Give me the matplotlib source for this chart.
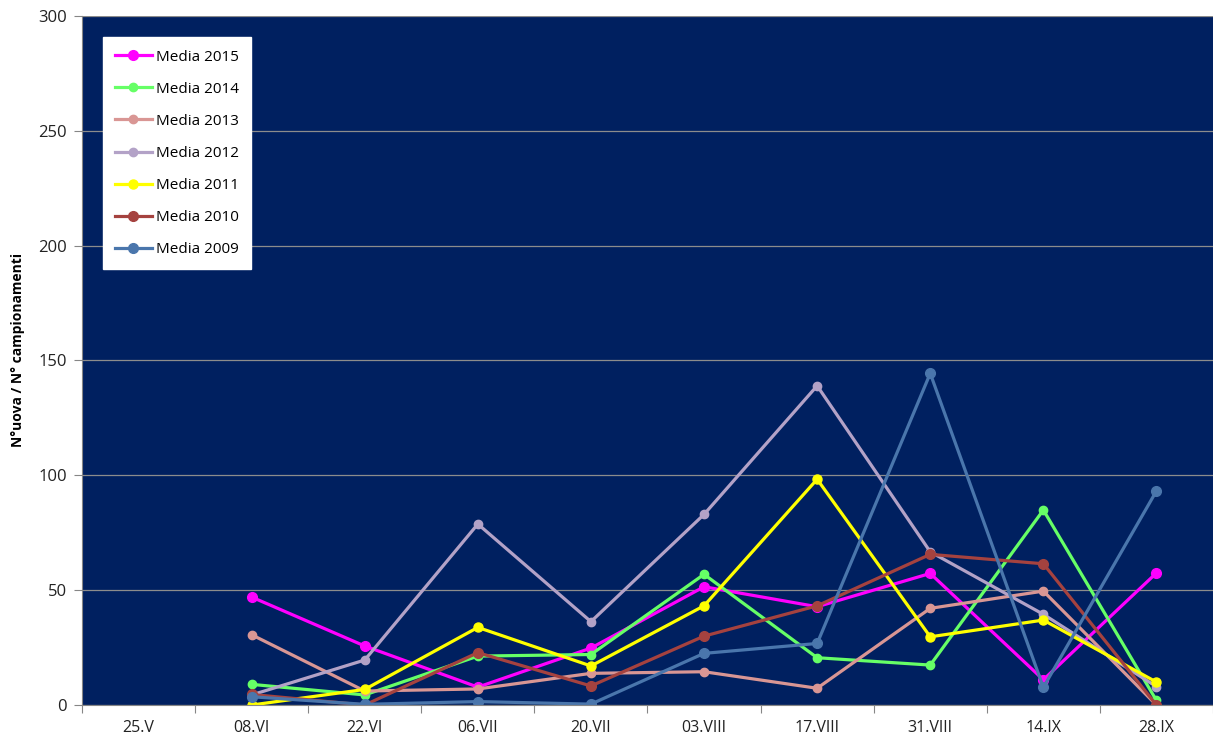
import numpy as np
import matplotlib.pyplot as plt
from matplotlib.ticker import FixedLocator, NullFormatter

plt.rcParams['font.family'] = ['Open Sans', 'DejaVu Sans']

dates = ['25.V', '08.VI', '22.VI', '06.VII', '20.VII', '03.VIII',
         '17.VIII', '31.VIII', '14.IX', '28.IX']

nan = np.nan
media_2015 = [nan, 47, 25.7, 7.8, 24.8, 51.5, 42.8, 57.3, 11, 57.5]
media_2014 = [nan, 9, 4.4, 21.3, 22, 56.9, 20.6, 17.4, 84.9, 2]
media_2013 = [nan, 30.6, 6.1, 7, 13.8, 14.5, 7.3, 42.1, 49.6, 0]
media_2012 = [nan, 4.4, 19.6, 78.8, 36.3, 83, 139, 66.7, 39.5, 8]
media_2011 = [nan, 0, 6.8, 33.8, 17, 43.2, 98.3, 29.7, 37, 10]
media_2010 = [nan, 4.6, 0, 22.8, 8.3, 30, 43.2, 65.6, 61.5, 0]
media_2009 = [nan, 3.6, 0.3, 1.5, 0.4, 22.5, 26.8, 144.4, 7.7, 93.2]

series = [
    ('Media 2015', media_2015, '#FF00FF', 7),
    ('Media 2014', media_2014, '#66FF66', 6),
    ('Media 2013', media_2013, '#D99694', 6),
    ('Media 2012', media_2012, '#B3A2C7', 6),
    ('Media 2011', media_2011, '#FFFF00', 6.5),
    ('Media 2010', media_2010, '#A5423F', 7),
    ('Media 2009', media_2009, '#4A76AC', 7),
]

fig = plt.figure(figsize=(12.13, 7.53), dpi=100)
ax = fig.add_axes([0.0676, 0.0637, 0.9324, 0.9151])
ax.set_facecolor('#002060')

x = np.arange(len(dates))
for label, vals, color, ms in series:
    ax.plot(x, vals, color=color, lw=2.3, marker='o', markersize=ms,
            label=label)

ax.set_xlim(-0.5, len(dates) - 0.5)
ax.set_ylim(0, 300)
ax.set_yticks(np.arange(0, 301, 50))
ax.yaxis.grid(True, color='#8C8C8C', lw=0.9)
ax.set_axisbelow(True)

# category labels centered, tick marks between categories
ax.xaxis.set_major_locator(FixedLocator(np.arange(-0.5, len(dates), 1.0)))
ax.xaxis.set_major_formatter(NullFormatter())
ax.xaxis.set_minor_locator(FixedLocator(x))
ax.set_xticklabels(dates, minor=True)
ax.tick_params(axis='x', which='major', length=6, color='#868686')
ax.tick_params(axis='x', which='minor', length=0, pad=11,
               labelsize=11.5, labelcolor='#222222')
ax.tick_params(axis='y', length=6, color='#868686', labelsize=12,
               labelcolor='#222222', pad=5)

for side in ['top', 'right']:
    ax.spines[side].set_visible(False)
for side in ['left', 'bottom']:
    ax.spines[side].set_color('#868686')

ax.set_ylabel('N°uova / N° campionamenti', fontsize=10, fontweight='bold')
ax.yaxis.set_label_coords(-0.05, 0.515)

leg = ax.legend(loc='upper left', bbox_to_anchor=(0.0115, 0.98),
                fancybox=False, framealpha=1, edgecolor='white',
                fontsize=11, labelspacing=1.12, handlelength=2.4,
                borderpad=0.8, handletextpad=0.3)

fig.savefig('out.png', dpi=100)
